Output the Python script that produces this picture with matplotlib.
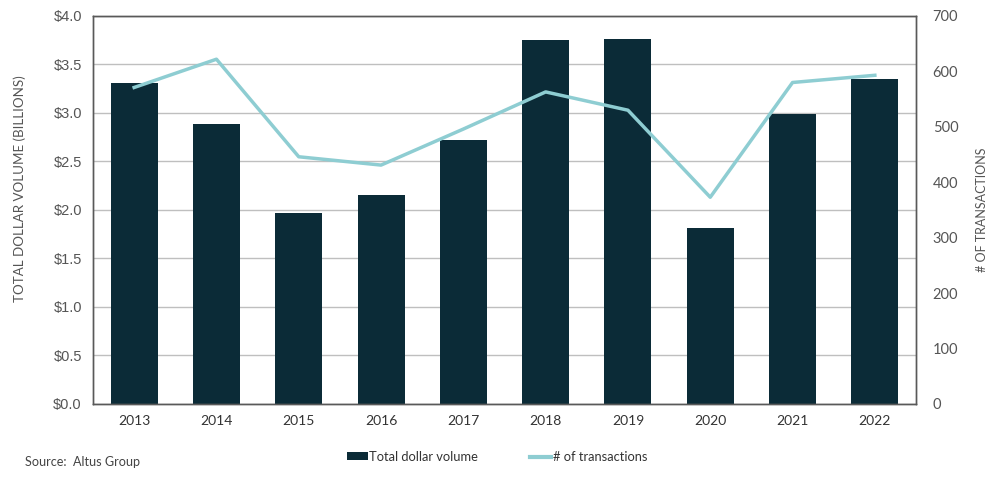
import matplotlib
matplotlib.use("Agg")
import matplotlib.pyplot as plt
import numpy as np
from matplotlib.patches import Patch
from matplotlib.lines import Line2D

years = ["2013", "2014", "2015", "2016", "2017", "2018", "2019", "2020", "2021", "2022"]
dollar_volume = [3.31, 2.89, 1.97, 2.15, 2.72, 3.75, 3.76, 1.81, 2.99, 3.35]
transactions = [571, 622, 446, 431, 496, 563, 530, 373, 580, 593]
left_ticks = [0, 0.5, 1.0, 1.5, 2.0, 2.5, 3.0, 3.5, 4.0]
left_labels = ["$0.0", "$0.5", "$1.0", "$1.5", "$2.0", "$2.5", "$3.0", "$3.5", "$4.0"]
right_ticks = [0, 100, 200, 300, 400, 500, 600, 700]

bar_color = "#0B2B37"
line_color = "#8ECDD2"
text_color = "#555555"

fig = plt.figure(figsize=(10, 4.84), dpi=100)
ax = fig.add_axes([0.093, 0.1653, 0.823, 0.8017])
x = np.arange(len(years))
ax.bar(x, dollar_volume, width=0.57, color=bar_color, zorder=2)
ax.set_xlim(-0.5, len(years) - 0.5)
ax.set_ylim(0, 4.0)
ax.set_yticks(left_ticks)
ax.set_yticklabels(left_labels, fontfamily="Liberation Sans", fontsize=10.5, color=text_color)
ax.set_xticks(x)
ax.set_xticklabels(years, fontfamily="Lato", fontsize=10, color="#333333")
ax.grid(axis="y", color="#BFBFBF", linewidth=1, zorder=0)
ax.tick_params(axis="both", length=0, pad=8)
for s in ax.spines.values():
    s.set_color("#595959")
    s.set_linewidth(1)
ax.set_ylabel("TOTAL DOLLAR VOLUME (BILLIONS)", fontfamily="Lato", fontsize=9.6,
              color=text_color)
ax.yaxis.set_label_coords(-0.0814, 0.554)

ax2 = ax.twinx()
ax2.plot(x, transactions, color=line_color, linewidth=2.5, zorder=3)
ax2.set_ylim(0, 700)
ax2.set_yticks(right_ticks)
ax2.set_yticklabels([str(t) for t in right_ticks], fontfamily="Lato", fontsize=10.5, color=text_color)
ax2.tick_params(axis="y", length=0, pad=12)
for s in ax2.spines.values():
    s.set_color("#595959")
    s.set_linewidth(1)
ax2.set_ylabel("# OF TRANSACTIONS", fontfamily="Lato", fontsize=9, color=text_color, labelpad=13)

handles = [Patch(facecolor=bar_color, label="Total dollar volume"),
           Line2D([0], [0], color=line_color, linewidth=3, label="# of transactions")]
fig.legend(handles=handles, loc="center", bbox_to_anchor=(0.497, 0.056), ncol=2, frameon=False,
           prop={"family": "Lato", "size": 9.3}, handlelength=1.6, handletextpad=0.15,
           columnspacing=4.0, labelcolor="#333333", handleheight=0.6)

fig.text(0.025, 0.045, "Source:  Altus Group", fontfamily="Lato", fontsize=9.1, color="#444444",
         va="center", ha="left")

fig.savefig("out.png", dpi=100)
